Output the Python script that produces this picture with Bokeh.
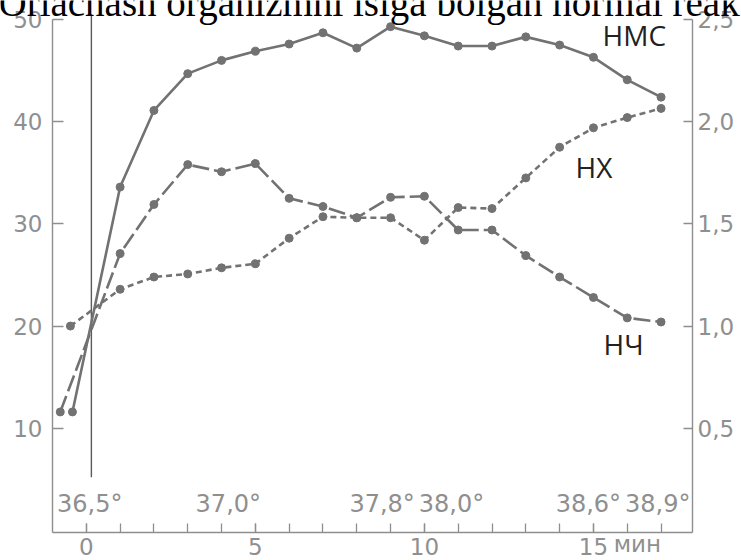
from bokeh.plotting import figure
from bokeh.models import LinearAxis, FixedTicker, Range1d, Label
from bokeh.embed import file_html
from bokeh.resources import INLINE

# ---------------- data ----------------
minutes = list(range(1, 18))

# НМС (solid)
nms_x = [-0.41] + minutes
nms_y = [11.6, 33.6, 41.1, 44.7, 46.0, 46.9, 47.6, 48.7, 47.2, 49.3, 48.4,
         47.4, 47.4, 48.3, 47.5, 46.3, 44.1, 42.4]

# НЧ (long dash)
nch_x = [-0.77] + minutes
nch_y = [11.6, 27.1, 31.9, 35.8, 35.1, 35.9, 32.5, 31.7, 30.6, 32.6, 32.7,
         29.4, 29.4, 26.9, 24.8, 22.8, 20.8, 20.4]

# НХ (short dash)
nkh_x = [-0.47] + minutes
nkh_y = [20.0, 23.6, 24.8, 25.1, 25.7, 26.1, 28.6, 30.7, 30.6, 30.6, 28.4,
         31.6, 31.5, 34.5, 37.5, 39.4, 40.4, 41.3]

series_names = ["НМС", "НХ", "НЧ"]

left_ticks = [10, 20, 30, 40, 50]
right_tick_labels = ["0,5", "1,0", "1,5", "2,0", "2,5"]
right_tick_values = [0.5, 1.0, 1.5, 2.0, 2.5]
x_major_ticks = [0, 5, 10, 15]
x_minor_ticks = list(range(0, 18))
x_unit = "мин"

temp_labels = ["36,5°", "37,0°", "37,8°", "38,0°", "38,6°", "38,9°"]
temp_x = [0.1, 4.2, 8.75, 10.8, 14.85, 16.9]

start_mark_x = 0.15
start_mark_y = [5.2, 50.5]

title_text = "Orlachash organizmni isiga bolgan normal reakt"

# ---------------- styling / geometry ----------------
W, H = 741, 560
X0, X1 = -1.0, 17.93          # axis span (data)
Y0, Y1 = -0.2, 50.0
AX_L, AX_R, AX_T, AX_B = 52, 692, 19, 532   # axis pixel positions
RIGHT_SCALE = 20.0

kx = (AX_R - AX_L) / (X1 - X0)
ky = (AX_B - AX_T) / (Y1 - Y0)
XS, XE = X0 - AX_L / kx, X1 + (W - AX_R) / kx
YS, YE = Y0 - (H - AX_B) / ky, Y1 + AX_T / ky

LINE = "#727272"
AXIS = "#8e8e8e"
TICKLBL = "#8f8f8f"
TXT = "#222222"
TICKFONT = "DejaVu Sans"

p = figure(width=W, height=H, x_range=Range1d(XS, XE), y_range=Range1d(YS, YE),
           output_backend="svg", toolbar_location=None,
           x_axis_location=None, y_axis_location=None, min_border=0)
p.outline_line_color = None
p.grid.visible = False
p.background_fill_color = "white"
p.border_fill_color = "white"

def style_axis(ax):
    ax.axis_line_color = AXIS
    ax.axis_line_width = 1.4
    ax.major_tick_line_color = AXIS
    ax.minor_tick_line_color = AXIS
    ax.major_tick_line_width = 1.3
    ax.minor_tick_line_width = 1.3
    ax.major_tick_out = 0
    ax.minor_tick_out = 0
    ax.major_label_text_color = TICKLBL
    ax.major_label_text_font = TICKFONT
    ax.major_label_text_font_size = "23px"

left = LinearAxis(fixed_location=X0, bounds=(Y0, Y1),
                  ticker=FixedTicker(ticks=left_ticks, minor_ticks=[]))
style_axis(left)
left.major_tick_in = 11
left.minor_tick_in = 0
left.major_label_standoff = 10
p.add_layout(left, "left")

right_pos = [v * RIGHT_SCALE for v in right_tick_values]
right = LinearAxis(fixed_location=X1, bounds=(Y0, Y1),
                   ticker=FixedTicker(ticks=right_pos, minor_ticks=[]),
                   major_label_overrides={int(round(v)): t for v, t in zip(right_pos, right_tick_labels)})
style_axis(right)
right.major_tick_in = 9
right.minor_tick_in = 0
right.major_label_standoff = 5
p.add_layout(right, "right")

bottom = LinearAxis(fixed_location=Y0, bounds=(X0, X1),
                    ticker=FixedTicker(ticks=x_major_ticks, minor_ticks=x_minor_ticks))
style_axis(bottom)
bottom.major_label_text_font_size = "23px"
bottom.major_tick_in = 9
bottom.minor_tick_in = 9
bottom.major_label_standoff = 5
p.add_layout(bottom, "below")

# unit label next to "15"
p.add_layout(Label(x=x_major_ticks[-1] + 0.6, y=Y0, y_offset=-11, text=x_unit,
                   text_font=TICKFONT, text_font_size="23px",
                   text_color=TICKLBL, text_align="left", text_baseline="alphabetic"))

# vertical start line
p.line([start_mark_x, start_mark_x], start_mark_y, line_color="#5a5a5a", line_width=1.4)

# series
p.line(nkh_x, nkh_y, line_color=LINE, line_width=2.6, line_dash="6 4")
p.scatter(nkh_x, nkh_y, size=8, color=LINE)
p.line(nch_x, nch_y, line_color=LINE, line_width=2.6, line_dash="17 5")
p.scatter(nch_x, nch_y, size=8, color=LINE)
p.line(nms_x, nms_y, line_color=LINE, line_width=2.6)
p.scatter(nms_x, nms_y, size=8, color=LINE)

# series labels
lbl_pos = {"НМС": (15.27, 48.5), "НХ": (14.47, 35.6), "НЧ": (15.3, 18.2)}
for name in series_names:
    lx, ly = lbl_pos[name]
    p.add_layout(Label(x=lx, y=ly, text=name, text_font="Open Sans",
                       text_font_size="28px", text_color=TXT,
                       text_baseline="alphabetic", text_align="left"))

# temperature labels
for tx, tt in zip(temp_x, temp_labels):
    p.add_layout(Label(x=tx, y=2.6, text=tt, text_font=TICKFONT,
                       text_font_size="24px", text_color=TICKLBL,
                       text_align="center", text_baseline="alphabetic"))

# clipped heading line at top
p.add_layout(Label(x=X0, y=Y1, x_offset=-54, y_offset=17, text=title_text,
                   text_font="Liberation Serif", text_font_size="39px",
                   text_color="black", text_baseline="alphabetic", text_align="left"))

open("out.html", "w").write(file_html(p, INLINE))
